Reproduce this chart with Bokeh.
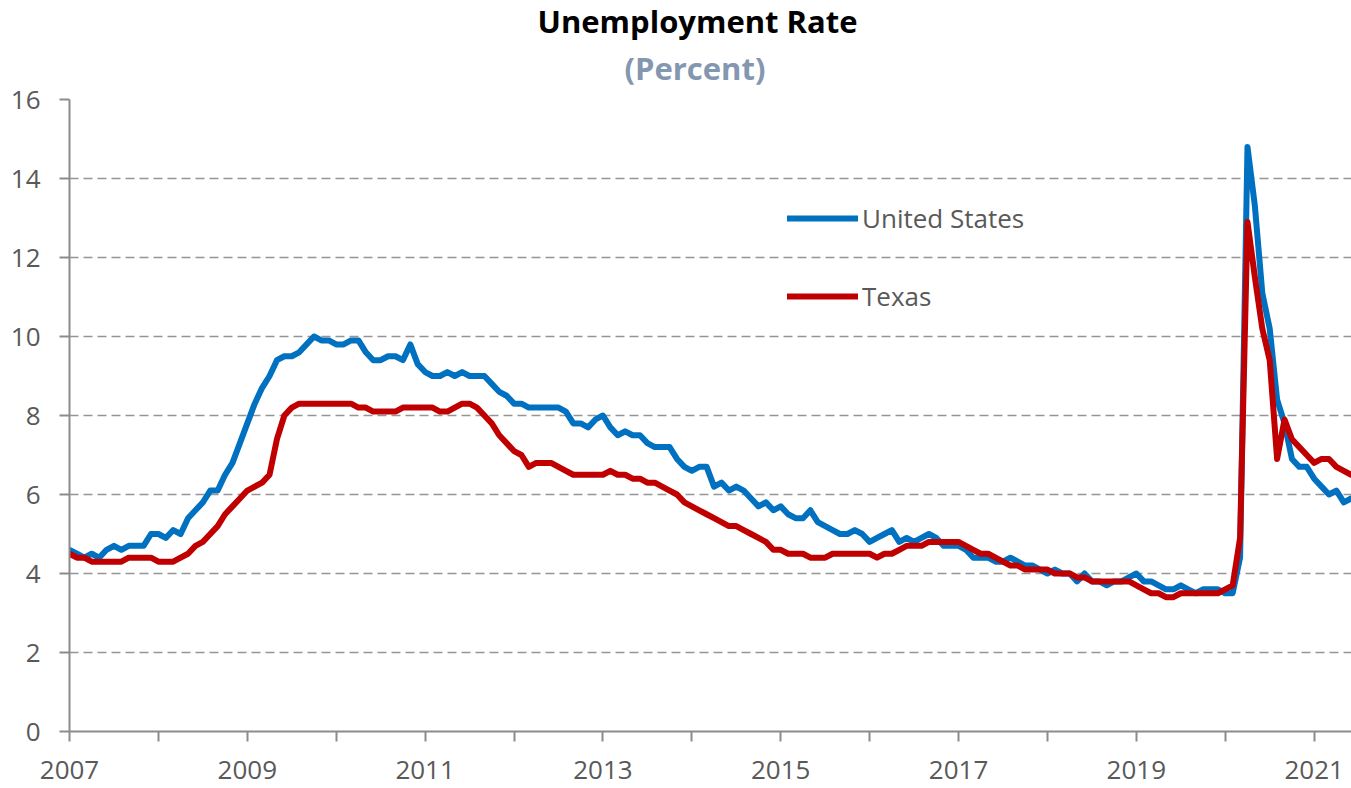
from bokeh.plotting import figure
from bokeh.models import (Range1d, FixedTicker, Legend, LegendItem, Title,
                          CustomJSTickFormatter)
from bokeh.embed import file_html
from bokeh.resources import INLINE

# ---------------- data (monthly, Jan 2007 - Jun 2021) ----------------
start_year = 2007
us_rate = [
    4.6, 4.5, 4.4, 4.5, 4.4, 4.6, 4.7, 4.6, 4.7, 4.7, 4.7, 5.0,   # 2007
    5.0, 4.9, 5.1, 5.0, 5.4, 5.6, 5.8, 6.1, 6.1, 6.5, 6.8, 7.3,   # 2008
    7.8, 8.3, 8.7, 9.0, 9.4, 9.5, 9.5, 9.6, 9.8, 10.0, 9.9, 9.9,  # 2009
    9.8, 9.8, 9.9, 9.9, 9.6, 9.4, 9.4, 9.5, 9.5, 9.4, 9.8, 9.3,   # 2010
    9.1, 9.0, 9.0, 9.1, 9.0, 9.1, 9.0, 9.0, 9.0, 8.8, 8.6, 8.5,   # 2011
    8.3, 8.3, 8.2, 8.2, 8.2, 8.2, 8.2, 8.1, 7.8, 7.8, 7.7, 7.9,   # 2012
    8.0, 7.7, 7.5, 7.6, 7.5, 7.5, 7.3, 7.2, 7.2, 7.2, 6.9, 6.7,   # 2013
    6.6, 6.7, 6.7, 6.2, 6.3, 6.1, 6.2, 6.1, 5.9, 5.7, 5.8, 5.6,   # 2014
    5.7, 5.5, 5.4, 5.4, 5.6, 5.3, 5.2, 5.1, 5.0, 5.0, 5.1, 5.0,   # 2015
    4.8, 4.9, 5.0, 5.1, 4.8, 4.9, 4.8, 4.9, 5.0, 4.9, 4.7, 4.7,   # 2016
    4.7, 4.6, 4.4, 4.4, 4.4, 4.3, 4.3, 4.4, 4.3, 4.2, 4.2, 4.1,   # 2017
    4.0, 4.1, 4.0, 4.0, 3.8, 4.0, 3.8, 3.8, 3.7, 3.8, 3.8, 3.9,   # 2018
    4.0, 3.8, 3.8, 3.7, 3.6, 3.6, 3.7, 3.6, 3.5, 3.6, 3.6, 3.6,   # 2019
    3.5, 3.5, 4.4, 14.8, 13.3, 11.1, 10.2, 8.4, 7.8, 6.9, 6.7, 6.7,  # 2020
    6.4, 6.2, 6.0, 6.1, 5.8, 5.9,                                 # 2021
]
tx_rate = [
    4.5, 4.4, 4.4, 4.3, 4.3, 4.3, 4.3, 4.3, 4.4, 4.4, 4.4, 4.4,   # 2007
    4.3, 4.3, 4.3, 4.4, 4.5, 4.7, 4.8, 5.0, 5.2, 5.5, 5.7, 5.9,   # 2008
    6.1, 6.2, 6.3, 6.5, 7.4, 8.0, 8.2, 8.3, 8.3, 8.3, 8.3, 8.3,   # 2009
    8.3, 8.3, 8.3, 8.2, 8.2, 8.1, 8.1, 8.1, 8.1, 8.2, 8.2, 8.2,   # 2010
    8.2, 8.2, 8.1, 8.1, 8.2, 8.3, 8.3, 8.2, 8.0, 7.8, 7.5, 7.3,   # 2011
    7.1, 7.0, 6.7, 6.8, 6.8, 6.8, 6.7, 6.6, 6.5, 6.5, 6.5, 6.5,   # 2012
    6.5, 6.6, 6.5, 6.5, 6.4, 6.4, 6.3, 6.3, 6.2, 6.1, 6.0, 5.8,   # 2013
    5.7, 5.6, 5.5, 5.4, 5.3, 5.2, 5.2, 5.1, 5.0, 4.9, 4.8, 4.6,   # 2014
    4.6, 4.5, 4.5, 4.5, 4.4, 4.4, 4.4, 4.5, 4.5, 4.5, 4.5, 4.5,   # 2015
    4.5, 4.4, 4.5, 4.5, 4.6, 4.7, 4.7, 4.7, 4.8, 4.8, 4.8, 4.8,   # 2016
    4.8, 4.7, 4.6, 4.5, 4.5, 4.4, 4.3, 4.2, 4.2, 4.1, 4.1, 4.1,   # 2017
    4.1, 4.0, 4.0, 4.0, 3.9, 3.9, 3.8, 3.8, 3.8, 3.8, 3.8, 3.8,   # 2018
    3.7, 3.6, 3.5, 3.5, 3.4, 3.4, 3.5, 3.5, 3.5, 3.5, 3.5, 3.5,   # 2019
    3.6, 3.7, 4.9, 12.9, 11.5, 10.2, 9.4, 6.9, 7.9, 7.4, 7.2, 7.0,  # 2020
    6.8, 6.9, 6.9, 6.7, 6.6, 6.5,                                 # 2021
]
months = [start_year + i / 12 for i in range(len(us_rate))]
labeled_years = [2007, 2009, 2011, 2013, 2015, 2017, 2019, 2021]
other_years = [2008, 2010, 2012, 2014, 2016, 2018, 2020]
y_ticks = [0, 2, 4, 6, 8, 10, 12, 14, 16]

title_text = "Unemployment Rate"
subtitle_text = "(Percent)"
series_names = ["United States", "Texas"]

# ---------------- styling ----------------
FONT = "Open Sans"
TXT = "#595959"
AX = "#8c8c8c"
BLUE = "#0070C0"
RED = "#C00000"

p = figure(width=1351, height=788, output_backend="svg", toolbar_location=None,
           title=None,
           x_range=Range1d(2007, 2021.42), y_range=Range1d(0, 16),
           min_border_left=69, min_border_right=0, min_border_top=0,
           min_border_bottom=57)
p.outline_line_color = None
p.background_fill_color = "white"
p.border_fill_color = "white"

# grid
p.xgrid.visible = False
p.ygrid.ticker = FixedTicker(ticks=y_ticks)
p.ygrid.grid_line_color = "#959595"
p.ygrid.grid_line_width = 1.6
p.ygrid.grid_line_dash = "9 5"

# x axis
p.xaxis.ticker = FixedTicker(ticks=labeled_years, minor_ticks=other_years)
p.xaxis.formatter = CustomJSTickFormatter(code="return tick.toFixed(0);")
p.xaxis.axis_line_color = AX
p.xaxis.axis_line_width = 2
p.xaxis.major_tick_line_color = AX
p.xaxis.minor_tick_line_color = AX
p.xaxis.major_tick_line_width = 2
p.xaxis.minor_tick_line_width = 2
p.xaxis.major_tick_out = 10
p.xaxis.major_tick_in = 0
p.xaxis.minor_tick_out = 10
p.xaxis.minor_tick_in = 0
p.xaxis.major_label_standoff = 19
p.xaxis.major_label_text_font = FONT
p.xaxis.major_label_text_font_size = "26px"
p.xaxis.major_label_text_color = TXT

# y axis
p.yaxis.ticker = FixedTicker(ticks=y_ticks)
p.yaxis.axis_line_color = AX
p.yaxis.axis_line_width = 2
p.yaxis.major_tick_line_color = AX
p.yaxis.major_tick_line_width = 2
p.yaxis.major_tick_out = 10
p.yaxis.major_tick_in = 0
p.yaxis.minor_tick_line_color = None
p.yaxis.major_label_standoff = 19
p.yaxis.major_label_text_font = FONT
p.yaxis.major_label_text_font_size = "26px"
p.yaxis.major_label_text_color = TXT

# lines
r_us = p.line(months, us_rate, line_color=BLUE, line_width=6,
              line_join="round", line_cap="round")
r_tx = p.line(months, tx_rate, line_color=RED, line_width=6,
              line_join="round", line_cap="round")

legend = Legend(items=[LegendItem(label=series_names[0], renderers=[r_us]),
                       LegendItem(label=series_names[1], renderers=[r_tx])],
                location=(718, 417), orientation="vertical",
                padding=0, margin=0, spacing=42,
                glyph_width=71, glyph_height=30, label_height=30,
                label_standoff=4,
                label_text_font=FONT, label_text_font_size="26px",
                label_text_color=TXT,
                border_line_alpha=0, background_fill_alpha=0)
p.add_layout(legend, "center")

# titles (subtitle first: it sits closest to the plot)
p.add_layout(Title(text=subtitle_text, align="left", text_font=FONT,
                   text_font_size="31px", text_font_style="bold",
                   text_color="#8497B0", standoff=17, offset=555,
                   vertical_align="top"), "above")
p.add_layout(Title(text=title_text, align="left", text_font=FONT,
                   text_font_size="31px", text_font_style="bold",
                   text_color="#000000", standoff=-6, offset=468), "above")

open("out.html", "w").write(file_html(p, INLINE))
